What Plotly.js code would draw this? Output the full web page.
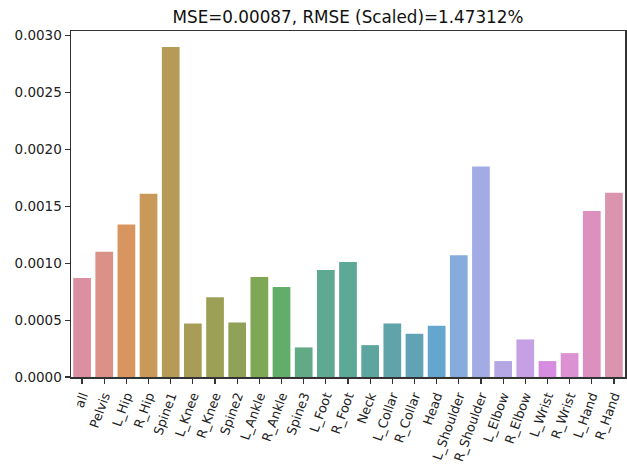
<!DOCTYPE html>
<html>
<head>
<meta charset="utf-8">
<script src="https://cdn.plot.ly/plotly-3.0.1.min.js"></script>
<style>html,body{margin:0;padding:0;background:#fff;}#chart{width:627px;height:466px;}</style>
</head>
<body>
<div id="chart"></div>
<script>
const joints = ["all","Pelvis","L_Hip","R_Hip","Spine1","L_Knee","R_Knee","Spine2","L_Ankle","R_Ankle","Spine3","L_Foot","R_Foot","Neck","L_Collar","R_Collar","Head","L_Shoulder","R_Shoulder","L_Elbow","R_Elbow","L_Wrist","R_Wrist","L_Hand","R_Hand"];
const mse = [0.00087,0.00110,0.00134,0.00161,0.00290,0.00047,0.00070,0.00048,0.00088,0.00079,0.00026,0.00094,0.00101,0.00028,0.00047,0.00038,0.00045,0.00107,0.00185,0.00014,0.00033,0.00014,0.00021,0.00146,0.00162];
const barColors = ["#dc8fa0","#dc9188","#d9955f","#c9995a","#b59b57","#a89d56","#9ba056","#90a257","#7ea856","#62ad6a","#62aa86","#5fa892","#5ea898","#5fa59f","#60a4a9","#61a3b5","#65a6cf","#85acdc","#a2abe3","#b4a7e4","#c6a0e4","#d68de0","#dc91d2","#db90c0","#db94ad"];
const titleText = "MSE=0.00087, RMSE (Scaled)=1.47312%";

const font = "DejaVu Sans, sans-serif";
Plotly.newPlot("chart", [{
  type: "bar",
  x: joints,
  y: mse,
  width: 0.8,
  marker: {color: barColors, line: {width: 0}},
  hoverinfo: "x+y"
}], {
  width: 627, height: 466,
  margin: {l: 71, r: 2, t: 31, b: 89, pad: 0},
  paper_bgcolor: "#fff", plot_bgcolor: "#fff",
  showlegend: false,
  title: {text: titleText, font: {family: font, size: 16.8, color: "#111"}, x: 0.555, xanchor: "center", y: 0.976, yanchor: "top"},
  xaxis: {
    type: "category", range: [-0.5, joints.length - 0.5],
    tickangle: -70, ticks: "outside", ticklen: 5, tickwidth: 1.2, tickcolor: "#333",
    tickfont: {family: font, size: 12.8, color: "#222"},
    showline: true, linecolor: "#333", linewidth: 1.5, mirror: true,
    showgrid: false, zeroline: false, fixedrange: true
  },
  yaxis: {
    range: [0, 0.003041], tickvals: [0,0.0005,0.001,0.0015,0.002,0.0025,0.003],
    ticktext: ["0.0000","0.0005","0.0010","0.0015","0.0020","0.0025","0.0030"],
    ticks: "outside", ticklen: 5, tickwidth: 1.2, tickcolor: "#333",
    tickfont: {family: font, size: 13.5, color: "#222"},
    showline: true, linecolor: "#333", linewidth: 1.5, mirror: true,
    showgrid: false, zeroline: false, fixedrange: true
  },
  bargap: 0.2
}, {displayModeBar: false, staticPlot: true});
</script>
</body>
</html>
